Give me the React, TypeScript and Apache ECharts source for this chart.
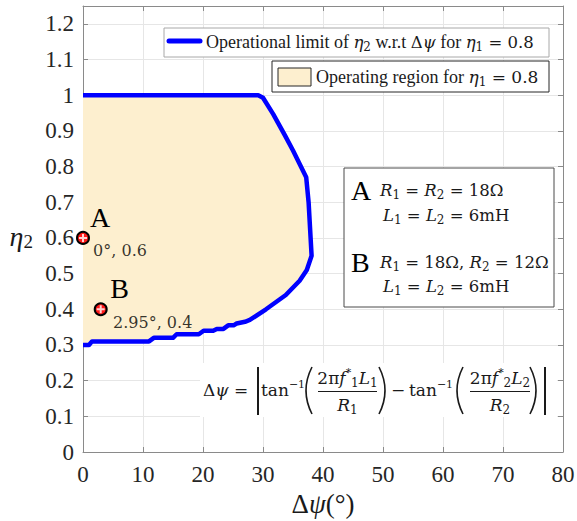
import React, { useEffect, useRef } from "react";
import * as echarts from "echarts";

// Boundary of the operating region, traced from the lower-left corner
// along the lower limit, up the right side and back along eta2 = 1.
const boundaryX = [0, 1, 1.5, 11, 11.8, 15, 15.6, 19.3, 20.1, 21.7, 22.3, 23.4, 24.2, 25.1, 25.6, 27, 27.8, 30.5, 33.8, 36.1, 37.3, 38.1, 37.6, 37.2, 35, 33.7, 31.7, 30, 29.2, 0];
const boundaryY = [0.3, 0.3, 0.31, 0.31, 0.32, 0.32, 0.33, 0.33, 0.34, 0.34, 0.345, 0.345, 0.355, 0.355, 0.36, 0.365, 0.37, 0.4, 0.44, 0.48, 0.51, 0.55, 0.7, 0.77, 0.845, 0.886, 0.947, 0.993, 1.0, 1.0];

// Operating points A and B
const pointNames = ["A", "B"];
const pointX = [0, 2.95];
const pointY = [0.6, 0.4];
const pointCaptions = ["0°, 0.6", "2.95°, 0.4"];

const letterOffsets = [[17, -20], [19, -21]];
const captionOffsets = [[37, 13], [52, 13]];

const SERIF = '"Liberation Serif", "Times New Roman", serif';
const MATH = '"DejaVu Serif", serif';
const INK = "#1a1a1a";
const TICK_INK = "#262626";
const AXIS_GREY = "#8a8a8a";
const GRID_GREY = "#e6e6e6";
const REGION_FILL = "#fdefcf";
const LIMIT_BLUE = "#0000ff";

// n/i: text face, q/m: math face (upright/italic), mb: subscript, p: superscript
function mathRich(size: number, msize: number) {
  const lh = Math.max(size, msize) + 4;
  const small = Math.round(msize * 0.7);
  return {
    n: { fontFamily: SERIF, fontSize: size, lineHeight: lh, fill: INK },
    i: { fontFamily: SERIF, fontSize: size, fontStyle: "italic", lineHeight: lh, fill: INK },
    q: { fontFamily: MATH, fontSize: msize, lineHeight: lh, fill: INK },
    m: { fontFamily: MATH, fontSize: msize, fontStyle: "italic", lineHeight: lh, fill: INK },
    mb: { fontFamily: MATH, fontSize: small, lineHeight: small, verticalAlign: "bottom", fill: INK },
    p: { fontFamily: MATH, fontSize: small - 1, lineHeight: small, verticalAlign: "top", fill: INK },
    big: { fontFamily: SERIF, fontSize: 28, lineHeight: 30, fill: "#000" },
  };
}

function mathText(x: number, y: number, text: string, size: number, msize: number, align = "left") {
  return {
    type: "text",
    x,
    y,
    z: 110,
    silent: true,
    style: {
      text,
      align,
      verticalAlign: "middle",
      rich: mathRich(size, msize),
      fill: INK,
      font: `${size}px ${SERIF}`,
    },
  };
}

function paren(xEnd: number, xCtrl: number, top: number, bottom: number) {
  return {
    type: "bezierCurve",
    z: 110,
    silent: true,
    shape: { x1: xEnd, y1: top, cpx1: xCtrl, cpy1: (top + bottom) / 2, x2: xEnd, y2: bottom },
    style: { stroke: INK, lineWidth: 1.6, fill: "none" },
  };
}

function vline(x: number, y1: number, y2: number, w: number) {
  return {
    type: "line",
    z: 110,
    silent: true,
    shape: { x1: x, y1, x2: x, y2 },
    style: { stroke: INK, lineWidth: w },
  };
}

function hline(x1: number, x2: number, y: number) {
  return {
    type: "line",
    z: 110,
    silent: true,
    shape: { x1, y1: y, x2, y2: y },
    style: { stroke: INK, lineWidth: 1.2 },
  };
}

export default function App() {
  const ref = useRef<HTMLDivElement>(null);

  useEffect(() => {
    if (!ref.current) return;
    const chart = echarts.init(ref.current, undefined, { renderer: "svg" });

    const boundary = boundaryX.map((x, i) => [x, boundaryY[i]]);

    const axisCommon = {
      type: "value",
      axisLine: { show: true, onZero: false, lineStyle: { color: AXIS_GREY, width: 1 } },
      axisTick: { show: true, inside: true, length: 5, lineStyle: { color: AXIS_GREY } },
    };

    const option: any = {
      animation: false,
      backgroundColor: "#ffffff",
      grid: { left: 83, right: 14, top: 6, bottom: 69, containLabel: false, outerBoundsMode: "none" },
      xAxis: [
        {
          ...axisCommon,
          position: "bottom",
          min: 0,
          max: 80,
          interval: 10,
          axisLabel: { color: TICK_INK, fontFamily: SERIF, fontSize: 23, margin: 11 },
          splitLine: { show: true, lineStyle: { color: GRID_GREY, width: 1 } },
          name: "{u|Δ}{i|ψ}{u|(°)}",
          nameLocation: "middle",
          nameGap: 31,
          nameTextStyle: {
            color: INK,
            fontFamily: SERIF,
            fontSize: 27,
            rich: {
              u: { color: INK, fontFamily: SERIF, fontSize: 27 },
              i: { color: INK, fontFamily: SERIF, fontSize: 27, fontStyle: "italic" },
            },
          },
        },
        {
          ...axisCommon,
          position: "top",
          min: 0,
          max: 80,
          interval: 10,
          axisLabel: { show: false },
          splitLine: { show: false },
        },
      ],
      yAxis: [
        {
          ...axisCommon,
          position: "left",
          min: 0,
          max: 1.25,
          interval: 0.1,
          axisLabel: { color: TICK_INK, fontFamily: SERIF, fontSize: 23, margin: 9, showMaxLabel: false },
          splitLine: { show: true, lineStyle: { color: GRID_GREY, width: 1 } },
          name: "{i|η}{s|2}",
          nameLocation: "middle",
          nameRotate: 0,
          nameGap: 50,
          nameTextStyle: {
            color: INK,
            padding: [14, 0, 0, 0],
            rich: {
              i: { color: INK, fontFamily: SERIF, fontSize: 28, fontStyle: "italic", lineHeight: 30 },
              s: { color: INK, fontFamily: SERIF, fontSize: 19, lineHeight: 19, verticalAlign: "bottom" },
            },
          },
        },
        {
          ...axisCommon,
          position: "right",
          min: 0,
          max: 1.25,
          interval: 0.1,
          axisLabel: { show: false },
          splitLine: { show: false },
        },
      ],
      series: [
        {
          type: "custom",
          name: "Operating region",
          silent: true,
          z: 1,
          clip: true,
          data: [[0, 0]],
          renderItem: (_params: any, api: any) => ({
            type: "polygon",
            shape: { points: boundary.map((p) => api.coord(p)) },
            style: { fill: REGION_FILL, stroke: "none" },
          }),
        },
        {
          type: "line",
          name: "Operational limit",
          data: boundary,
          showSymbol: false,
          z: 3,
          lineStyle: { color: LIMIT_BLUE, width: 4.5, join: "round" },
          silent: true,
        },
        {
          type: "scatter",
          name: "points",
          z: 5,
          clip: false,
          symbol: "circle",
          symbolSize: 12,
          itemStyle: { color: "#ff1a1a", borderColor: "#000", borderWidth: 2, opacity: 1 },
          data: pointX.map((x, i) => ({
            value: [x, pointY[i]],
            name: pointNames[i],
            label: { offset: letterOffsets[i] },
          })),
          label: {
            show: true,
            position: "inside",
            formatter: (p: any) => p.name,
            fontFamily: SERIF,
            fontSize: 28,
            color: "#000",
          },
        },
        {
          type: "scatter",
          name: "crosses",
          z: 6,
          clip: false,
          symbol: "path://M3,0H5V3H8V5H5V8H3V5H0V3H3Z",
          symbolSize: 8,
          itemStyle: { color: "#ffffff" },
          data: pointX.map((x, i) => [x, pointY[i]]),
        },
        {
          type: "scatter",
          name: "captions",
          z: 7,
          clip: false,
          symbolSize: 1,
          itemStyle: { color: "rgba(0,0,0,0)" },
          data: pointX.map((x, i) => ({
            value: [x, pointY[i]],
            name: pointCaptions[i],
            label: { offset: captionOffsets[i] },
          })),
          label: {
            show: true,
            position: "inside",
            formatter: (p: any) => p.name,
            fontFamily: MATH,
            fontSize: 16,
            color: "#000",
          },
        },
      ],
      graphic: [
        // legend: operational limit
        {
          type: "rect",
          z: 100,
          silent: true,
          shape: { x: 164, y: 28, width: 385, height: 29 },
          style: { fill: "#fff", stroke: "#a8a8a8", lineWidth: 1 },
        },
        {
          type: "line",
          z: 101,
          silent: true,
          shape: { x1: 169, y1: 41, x2: 200, y2: 41 },
          style: { stroke: LIMIT_BLUE, lineWidth: 5, lineCap: "round" },
        },
        mathText(206, 42, "{n|Operational limit of }{m|η}{mb|2}{n| w.r.t }{q|Δ}{m|ψ}{n| for }{m|η}{mb|1}{q| = 0.8}", 18, 16.5),
        // legend: operating region
        {
          type: "rect",
          z: 100,
          silent: true,
          shape: { x: 272, y: 61, width: 277, height: 31 },
          style: { fill: "#fff", stroke: "#262626", lineWidth: 1 },
        },
        {
          type: "rect",
          z: 101,
          silent: true,
          shape: { x: 278, y: 68, width: 33, height: 18 },
          style: { fill: REGION_FILL, stroke: "#262626", lineWidth: 1 },
        },
        mathText(316, 77, "{n|Operating region for }{m|η}{mb|1}{q| = 0.8}", 18, 17),
        // parameter box
        {
          type: "rect",
          z: 100,
          silent: true,
          shape: { x: 344, y: 168, width: 210, height: 139 },
          style: { fill: "#fff", stroke: "#4a4a4a", lineWidth: 1 },
        },
        mathText(351, 190, "{big|A}", 18, 16.5),
        mathText(380, 190, "{m|R}{mb|1}{q| = }{m|R}{mb|2}{q| = 18Ω}", 18, 16.5),
        mathText(383, 215, "{m|L}{mb|1}{q| = }{m|L}{mb|2}{q| = 6mH}", 18, 16.5),
        mathText(351, 262, "{big|B}", 18, 16.5),
        mathText(380, 262, "{m|R}{mb|1}{q| = 18Ω, }{m|R}{mb|2}{q| = 12Ω}", 18, 16.5),
        mathText(383, 286, "{m|L}{mb|1}{q| = }{m|L}{mb|2}{q| = 6mH}", 18, 16.5),
        // phase-difference definition
        {
          type: "rect",
          z: 100,
          silent: true,
          shape: { x: 200, y: 363, width: 357, height: 54 },
          style: { fill: "#fff", stroke: "none" },
        },
        mathText(203, 390, "{q|Δ}{m|ψ}{q| =}", 18, 17),
        vline(258, 367, 415, 2),
        mathText(261, 390, "{q|tan}{p|−1}", 18, 17),
        paren(312, 300, 367, 414),
        mathText(347.5, 378, "{q|2π}{m|f}{p|*}{mb|1}{m|L}{mb|1}", 18, 17, "center"),
        hline(318, 377, 391.5),
        mathText(347.5, 405, "{m|R}{mb|1}", 18, 17, "center"),
        paren(379, 391, 367, 414),
        mathText(391, 390, "{q|−}", 18, 17),
        mathText(409, 390, "{q|tan}{p|−1}", 18, 17),
        paren(463, 451, 367, 414),
        mathText(500, 378, "{q|2π}{m|f}{p|*}{mb|2}{m|L}{mb|2}", 18, 17, "center"),
        hline(470, 530, 391.5),
        mathText(500, 405, "{m|R}{mb|2}", 18, 17, "center"),
        paren(530, 542, 367, 414),
        vline(545, 367, 415, 2),
      ],
    };

    chart.setOption(option);
    return () => chart.dispose();
  }, []);

  return (
    <div
      ref={ref}
      style={{ position: "absolute", left: 0, top: 0, width: 577, height: 521 }}
    />
  );
}
